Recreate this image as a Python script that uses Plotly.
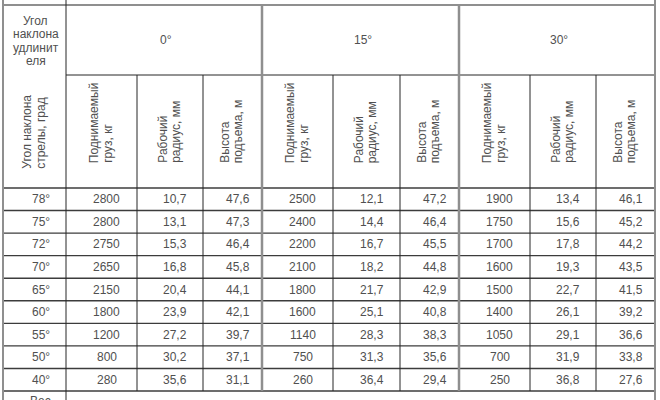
import plotly.graph_objects as go

# table data
boom_angle = ['78°', '75°', '72°', '70°', '65°', '60°', '55°', '50°', '40°']
ext_angle = ['0°', '15°', '30°']

load_0 = [2800, 2800, 2750, 2650, 2150, 1800, 1200, 800, 280]
radius_0 = [10.7, 13.1, 15.3, 16.8, 20.4, 23.9, 27.2, 30.2, 35.6]
height_0 = [47.6, 47.3, 46.4, 45.8, 44.1, 42.1, 39.7, 37.1, 31.1]

load_15 = [2500, 2400, 2200, 2100, 1800, 1600, 1140, 750, 260]
radius_15 = [12.1, 14.4, 16.7, 18.2, 21.7, 25.1, 28.3, 31.3, 36.4]
height_15 = [47.2, 46.4, 45.5, 44.8, 42.9, 40.8, 38.3, 35.6, 29.4]

load_30 = [1900, 1750, 1700, 1600, 1500, 1400, 1050, 700, 250]
radius_30 = [13.4, 15.6, 17.8, 19.3, 22.7, 26.1, 29.1, 31.9, 36.8]
height_30 = [46.1, 45.2, 44.2, 43.5, 41.5, 39.2, 36.6, 33.8, 27.6]

corner_title = ['Угол', 'наклона', 'удлинит', 'еля']
col_titles = [['Угол наклона', 'стрелы, град'],
              ['Поднимаемый', 'груз, кг'],
              ['Рабочий', 'радиус, мм'],
              ['Высота', 'подъема, м']]
footer = 'Вес'

# layout of the grid (pixels)
W, H = 660, 400
xs = [3, 66, 137, 203, 262, 333, 400, 459, 530, 596, 655]
y_top, y_grp, y_head, y_end = 5, 75, 188, 391
n = len(boom_angle)
row_y = [y_head + i * (y_end - y_head) / n for i in range(n + 1)]

DARK = '#262626'
GRAY = '#8f8f8f'
TXT = '#505050'
FONT = 'Liberation Sans, Arial, sans-serif'


def fmt(v):
    if isinstance(v, int):
        return str(v)
    return f'{v:.1f}'.replace('.', ',')


series = [load_0, radius_0, height_0,
          load_15, radius_15, height_15,
          load_30, radius_30, height_30]

shapes = []


def line(x0, y0, x1, y1, color, width):
    shapes.append(dict(type='line', xref='x', yref='y', x0=x0, y0=y0, x1=x1, y1=y1,
                       line=dict(color=color, width=width)))


# horizontal lines
line(xs[0], y_top, xs[-1], y_top, GRAY, 2)
line(xs[1], y_grp, xs[-1], y_grp, DARK, 1)
for y in row_y:
    line(xs[0], y, xs[-1], y, '#3c3c3c', 1.4)

# vertical lines
line(xs[0], 0, xs[0], H, GRAY, 2)
line(xs[-1], 0, xs[-1], H, GRAY, 2)
line(xs[1], 0, xs[1], H, DARK, 1)
for i in range(2, len(xs) - 1):
    if (i - 1) % 3 == 0:
        line(xs[i], y_top, xs[i], y_end, GRAY, 2.5)
    else:
        line(xs[i], y_grp, xs[i], y_end, DARK, 1)

ann = []


def text(x, y, s, angle=0, ya='middle', xa='center'):
    ann.append(dict(x=x, y=y, xref='x', yref='y', text=s, showarrow=False,
                    textangle=angle, xanchor=xa, yanchor=ya,
                    font=dict(family=FONT, size=12, color=TXT)))


# corner title
cx0 = (xs[0] + xs[1]) / 2
for k, s in enumerate(corner_title):
    text(cx0 + 1, 21 + k * 13.4, s)

# group titles
for g, s in enumerate(ext_angle):
    text((xs[1 + 3 * g] + xs[4 + 3 * g]) / 2 + 2, (y_top + y_grp) / 2, s)

# rotated column titles
for c in range(len(xs) - 1):
    t = col_titles[0] if c == 0 else col_titles[1 + (c - 1) % 3]
    mid = (xs[c] + xs[c + 1]) / 2 - 1
    start = 171 if c == 0 else 165
    text(mid - 6.8, start, t[0], angle=-90, ya='bottom')
    text(mid + 6.8, start, t[1], angle=-90, ya='bottom')

# data rows
for r in range(n):
    yc = (row_y[r] + row_y[r + 1]) / 2
    text((xs[0] + xs[1]) / 2 + 6, yc, boom_angle[r])
    for c, vals in enumerate(series):
        text((xs[c + 1] + xs[c + 2]) / 2 + 5, yc, fmt(vals[r]))

# last row is cut by the picture edge, as in the source
text(cx0 + 6, y_end + 1, footer, ya='top')

fig = go.Figure()
fig.update_layout(
    width=W, height=H,
    margin=dict(l=0, r=0, t=0, b=0),
    paper_bgcolor='white', plot_bgcolor='white',
    xaxis=dict(range=[0, W], visible=False, fixedrange=True),
    yaxis=dict(range=[H, 0], visible=False, fixedrange=True),
    shapes=shapes, annotations=ann, showlegend=False,
)
fig.write_html('out.html', config={'displayModeBar': False},
               post_script="document.body.style.margin='0';document.body.style.overflow='hidden';")
